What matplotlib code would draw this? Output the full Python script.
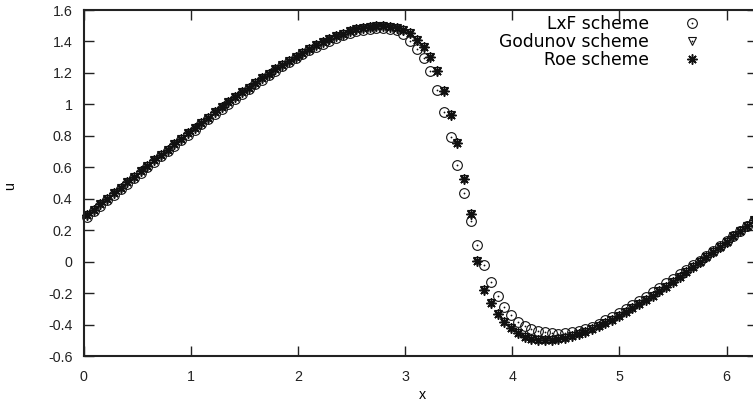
import numpy as np
import matplotlib
matplotlib.use("Agg")
import matplotlib.pyplot as plt
from matplotlib.ticker import FuncFormatter, MultipleLocator
from matplotlib.legend_handler import HandlerTuple

# Cell-centred grid on [0, 2*pi]
n_cells = 100
x = (np.arange(n_cells) + 0.5) * 2 * np.pi / n_cells

lxf_u = [
    0.286, 0.320, 0.355, 0.390, 0.425, 0.460, 0.495, 0.530, 0.565, 0.599,
    0.634, 0.669, 0.703, 0.738, 0.772, 0.806, 0.839, 0.873, 0.906, 0.939,
    0.971, 1.003, 1.035, 1.067, 1.097, 1.128, 1.157, 1.186, 1.215, 1.242,
    1.269, 1.294, 1.319, 1.343, 1.365, 1.387, 1.406, 1.425, 1.440, 1.455,
    1.466, 1.476, 1.482, 1.485, 1.485, 1.480, 1.470, 1.445, 1.400, 1.355,
    1.297, 1.210, 1.089, 0.949, 0.790, 0.612, 0.439, 0.261, 0.109, -0.024,
    -0.132, -0.221, -0.291, -0.342, -0.386, -0.411, -0.430, -0.442, -0.450, -0.455,
    -0.457, -0.455, -0.450, -0.441, -0.428, -0.413, -0.395, -0.374, -0.351, -0.325,
    -0.300, -0.274, -0.249, -0.222, -0.195, -0.167, -0.138, -0.110, -0.081, -0.052,
    -0.023, 0.006, 0.036, 0.067, 0.098, 0.129, 0.161, 0.194, 0.226, 0.258,
]

godunov_u = [
    0.296, 0.330, 0.365, 0.400, 0.435, 0.470, 0.505, 0.540, 0.575, 0.609,
    0.644, 0.679, 0.713, 0.748, 0.782, 0.816, 0.849, 0.883, 0.916, 0.949,
    0.981, 1.013, 1.045, 1.077, 1.107, 1.138, 1.167, 1.196, 1.225, 1.252,
    1.279, 1.304, 1.329, 1.353, 1.375, 1.397, 1.416, 1.435, 1.450, 1.466,
    1.477, 1.488, 1.494, 1.498, 1.500, 1.495, 1.486, 1.472, 1.455, 1.410,
    1.365, 1.300, 1.210, 1.085, 0.935, 0.755, 0.525, 0.300, 0.005, -0.180,
    -0.265, -0.335, -0.385, -0.422, -0.453, -0.477, -0.489, -0.496, -0.500, -0.498,
    -0.493, -0.485, -0.474, -0.462, -0.446, -0.430, -0.411, -0.391, -0.369, -0.346,
    -0.323, -0.297, -0.272, -0.245, -0.217, -0.189, -0.159, -0.130, -0.099, -0.068,
    -0.037, -0.005, 0.027, 0.060, 0.093, 0.126, 0.160, 0.194, 0.228, 0.262,
]

roe_u = [
    0.296, 0.330, 0.365, 0.400, 0.435, 0.470, 0.505, 0.540, 0.575, 0.609,
    0.644, 0.679, 0.713, 0.748, 0.782, 0.816, 0.849, 0.883, 0.916, 0.949,
    0.981, 1.013, 1.045, 1.077, 1.107, 1.138, 1.167, 1.196, 1.225, 1.252,
    1.279, 1.304, 1.329, 1.353, 1.375, 1.397, 1.416, 1.435, 1.450, 1.466,
    1.477, 1.488, 1.494, 1.498, 1.500, 1.495, 1.486, 1.472, 1.455, 1.410,
    1.365, 1.300, 1.210, 1.085, 0.935, 0.755, 0.525, 0.300, 0.005, -0.180,
    -0.265, -0.335, -0.385, -0.422, -0.453, -0.477, -0.489, -0.496, -0.500, -0.498,
    -0.493, -0.485, -0.474, -0.462, -0.446, -0.430, -0.411, -0.391, -0.369, -0.346,
    -0.323, -0.297, -0.272, -0.245, -0.217, -0.189, -0.159, -0.130, -0.099, -0.068,
    -0.037, -0.005, 0.027, 0.060, 0.093, 0.126, 0.160, 0.194, 0.228, 0.262,
]

labels = ["LxF scheme", "Godunov scheme", "Roe scheme"]
x_ticks = [0, 1, 2, 3, 4, 5, 6]

plt.rcParams["font.family"] = ["Liberation Sans", "DejaVu Sans"]

fig = plt.figure(figsize=(7.53, 4.04), dpi=100)
ax = fig.add_axes([0.1109, 0.1188, 0.8944, 0.8564])

ink = "#111111"
ms_open = 7.0
dot_ms = 1.3

# LxF: open circle with a centre dot
h_lxf_c, = ax.plot(x, lxf_u, ls="none", marker="o", ms=ms_open, mfc="none",
                   mec=ink, mew=0.8, clip_on=False)
h_lxf_d, = ax.plot(x, lxf_u, ls="none", marker="o", ms=dot_ms, mfc=ink,
                   mec=ink, mew=0, clip_on=False)

# Godunov: open down-triangle with a centre dot
h_god_t, = ax.plot(x, godunov_u, ls="none", marker="v", ms=6.4, mfc="none",
                   mec=ink, mew=0.8, clip_on=False)
h_god_d, = ax.plot(x, godunov_u, ls="none", marker="o", ms=dot_ms, mfc=ink,
                   mec=ink, mew=0, clip_on=False)

# Roe: eight-armed asterisk
h_roe, = ax.plot(x, roe_u, ls="none", marker=(8, 2, 0), ms=7.2, mec=ink,
                 mew=1.1, clip_on=False)

ax.set_xlim(0, 2 * np.pi)
ax.set_ylim(-0.6, 1.6)
ax.set_xticks(x_ticks)
ax.yaxis.set_major_locator(MultipleLocator(0.2))


def fmt(v, _pos):
    v = round(v, 6) + 0.0
    return f"{v:g}"


ax.yaxis.set_major_formatter(FuncFormatter(fmt))
ax.xaxis.set_major_formatter(FuncFormatter(fmt))

ax.tick_params(direction="in", top=True, right=True, length=7.5, width=1.0,
               labelsize=10.3, colors="#222222")
ax.tick_params(axis="y", pad=8)
ax.tick_params(axis="x", pad=10)
for s in ax.spines.values():
    s.set_linewidth(1.5)
    s.set_color("#222222")

ax.set_xlabel("x", fontsize=10.3)
ax.set_ylabel("u", fontsize=10.3)
ax.xaxis.set_label_coords(0.503, -0.092)
ax.yaxis.set_label_coords(-0.098, 0.49)

leg = ax.legend(
    [(h_lxf_c, h_lxf_d), (h_god_t, h_god_d), h_roe], labels,
    handler_map={tuple: HandlerTuple(ndivide=1, pad=0)},
    loc="upper right", bbox_to_anchor=(0.911, 0.985),
    markerfirst=False, frameon=False, borderpad=0, borderaxespad=0,
    handlelength=0.6, handletextpad=2.2, labelspacing=0.0,
    prop={"family": "DejaVu Sans", "size": 12.3},
)

fig.savefig("out.png", dpi=100)
